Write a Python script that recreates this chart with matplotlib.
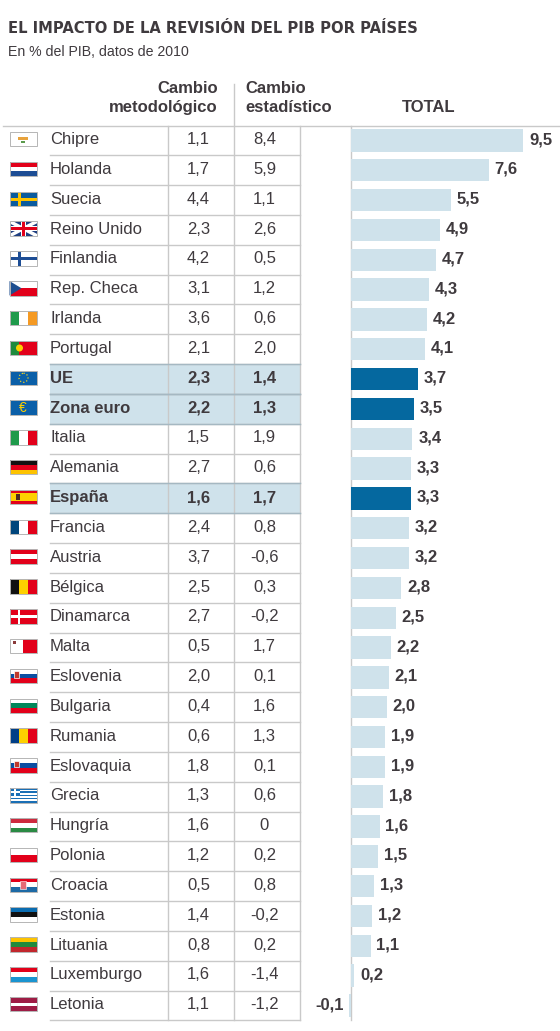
import matplotlib
matplotlib.use('agg')
import matplotlib.pyplot as plt
from matplotlib.patches import Rectangle, Circle

paises = ['Chipre', 'Holanda', 'Suecia', 'Reino Unido', 'Finlandia', 'Rep. Checa', 'Irlanda', 'Portugal',
          'UE', 'Zona euro', 'Italia', 'Alemania', 'España', 'Francia', 'Austria', 'Bélgica', 'Dinamarca',
          'Malta', 'Eslovenia', 'Bulgaria', 'Rumania', 'Eslovaquia', 'Grecia', 'Hungría', 'Polonia',
          'Croacia', 'Estonia', 'Lituania', 'Luxemburgo', 'Letonia']
metodologico = ['1,1', '1,7', '4,4', '2,3', '4,2', '3,1', '3,6', '2,1', '2,3', '2,2', '1,5', '2,7', '1,6', '2,4',
                '3,7', '2,5', '2,7', '0,5', '2,0', '0,4', '0,6', '1,8', '1,3', '1,6', '1,2', '0,5', '1,4', '0,8',
                '1,6', '1,1']
estadistico = ['8,4', '5,9', '1,1', '2,6', '0,5', '1,2', '0,6', '2,0', '1,4', '1,3', '1,9', '0,6', '1,7', '0,8',
               '-0,6', '0,3', '-0,2', '1,7', '0,1', '1,6', '1,3', '0,1', '0,6', '0', '0,2', '0,8', '-0,2', '0,2',
               '-1,4', '-1,2']
total = [9.5, 7.6, 5.5, 4.9, 4.7, 4.3, 4.2, 4.1, 3.7, 3.5, 3.4, 3.3, 3.3, 3.2, 3.2, 2.8, 2.5, 2.2, 2.1, 2.0,
         1.9, 1.9, 1.8, 1.6, 1.5, 1.3, 1.2, 1.1, 0.2, -0.1]
destacados = ['UE', 'Zona euro', 'España']

# bandas de cada bandera: (orientacion, colores)
R, W, B = '#e2001a', '#ffffff', '#00457c'
banderas = {
    'Chipre': ('h', ['#ffffff']), 'Holanda': ('h', [R, W, '#1d4d94']), 'Suecia': ('h', ['#0a5b9e']),
    'Reino Unido': ('h', ['#1f3f80']), 'Finlandia': ('h', [W]), 'Rep. Checa': ('h', [W, R]),
    'Irlanda': ('v', ['#1f9a4b', W, '#f59a23']), 'Portugal': ('v', ['#1f8a3d', R, R]),
    'UE': ('h', ['#0b5fa8']), 'Zona euro': ('h', ['#0b5fa8']), 'Italia': ('v', ['#1f9a4b', W, R]),
    'Alemania': ('h', ['#111111', R, '#fdc300']), 'España': ('h', [R, '#fdd000', '#fdd000', R]),
    'Francia': ('v', [B, W, R]), 'Austria': ('h', [R, W, R]), 'Bélgica': ('v', ['#111111', '#fdd000', R]),
    'Dinamarca': ('h', [R]), 'Malta': ('v', [W, R]), 'Eslovenia': ('h', [W, '#0b4ea2', R]),
    'Bulgaria': ('h', [W, '#00875a', R]), 'Rumania': ('v', ['#003f87', '#fdd000', R]),
    'Eslovaquia': ('h', [W, '#0b4ea2', R]), 'Grecia': ('h', ['#1a6fb5', W] * 4 + ['#1a6fb5']),
    'Hungría': ('h', ['#cd2a3e', W, '#2a8a44']), 'Polonia': ('h', [W, R]),
    'Croacia': ('h', [R, W, '#1d6aa5']), 'Estonia': ('h', ['#0a6cb0', '#111111', W]),
    'Lituania': ('h', ['#fdc300', '#1f8a3d', '#c1272d']), 'Luxemburgo': ('h', [R, W, '#1a94d0']),
    'Letonia': ('h', ['#9e1c45', '#9e1c45', W, '#9e1c45', '#9e1c45']),
}

plt.rcParams['font.family'] = ['Liberation Sans', 'DejaVu Sans']
texto = '#3f3a3e'
gris = '#c9c9c9'
azul_claro = '#cfe2eb'
azul = '#05689f'
y0 = 125.5
alto = 29.83

def fila(i):
    return y0 + alto * i

def bandera(ax, nombre, yc):
    x, w, h = 9.5, 27.5, 14.5
    top = yc - h / 2
    tipo, cols = banderas[nombre]
    n = len(cols)
    for k, c in enumerate(cols):
        if tipo == 'h':
            ax.add_patch(Rectangle((x, top + h * k / n), w, h / n, fc=c, ec='none', zorder=3))
        else:
            ax.add_patch(Rectangle((x + w * k / n, top), w / n, h, fc=c, ec='none', zorder=3))
    # detalles
    if nombre == 'Suecia':
        ax.add_patch(Rectangle((x + 8, top), 3, h, fc='#fdc300', zorder=4))
        ax.add_patch(Rectangle((x, top + 6), w, 3, fc='#fdc300', zorder=4))
    if nombre == 'Finlandia':
        ax.add_patch(Rectangle((x + 8, top), 3.5, h, fc='#1d4d94', zorder=4))
        ax.add_patch(Rectangle((x, top + 5.5), w, 3.5, fc='#1d4d94', zorder=4))
    if nombre == 'Dinamarca':
        ax.add_patch(Rectangle((x + 8, top), 2.5, h, fc=W, zorder=4))
        ax.add_patch(Rectangle((x, top + 6), w, 2.5, fc=W, zorder=4))
    if nombre == 'Reino Unido':
        ax.plot([x, x + w], [top, top + h], color=W, lw=2.5, zorder=4, solid_capstyle='butt')
        ax.plot([x, x + w], [top + h, top], color=W, lw=2.5, zorder=4, solid_capstyle='butt')
        ax.add_patch(Rectangle((x + 11, top), 5.5, h, fc=W, zorder=4))
        ax.add_patch(Rectangle((x, top + 5), w, 4.5, fc=W, zorder=4))
        ax.add_patch(Rectangle((x + 12.3, top), 3, h, fc=R, zorder=5))
        ax.add_patch(Rectangle((x, top + 5.8), w, 3, fc=R, zorder=5))
    if nombre == 'Rep. Checa':
        ax.fill([x, x + 12, x], [top, top + h / 2, top + h], color='#1f4f8f', zorder=4, lw=0)
    if nombre == 'Chipre':
        ax.add_patch(Rectangle((x + 8, top + 5), 10, 3.5, fc='#e8a33d', zorder=4))
        ax.add_patch(Rectangle((x + 11, top + 9), 4, 2.5, fc='#5a9a4b', zorder=4))
    if nombre == 'UE':
        ax.add_patch(Circle((x + 14, top + 7.3), 4.5, fc='none', ec='#f2d21f', lw=0.9, ls=':', zorder=4))
    if nombre == 'Zona euro':
        ax.text(x + 13.5, top + 7.5, '€', color='#fdd000', fontsize=10, ha='center', va='center', zorder=4)
    if nombre == 'España':
        ax.add_patch(Rectangle((x + 6, top + 4.5), 4.5, 5.5, fc='#4a2a20', zorder=4))
    if nombre == 'Portugal':
        ax.add_patch(Circle((x + 10, top + 7.3), 3.5, fc='#fdd000', ec='none', zorder=4))
    if nombre == 'Malta':
        ax.add_patch(Rectangle((x + 3.5, top + 2), 3, 3, fc='#8a3a3a', zorder=4))
    if nombre in ('Eslovenia', 'Eslovaquia'):
        ax.add_patch(Rectangle((x + 4.5, top + 2.5), 5, 6.5, fc='#c0392b', ec=W, lw=0.5, zorder=4))
    if nombre == 'Croacia':
        ax.add_patch(Rectangle((x + 10.5, top + 3), 6, 8, fc='#e56b75', ec=W, lw=0.4, zorder=4))
    if nombre == 'Grecia':
        ax.add_patch(Rectangle((x, top), 10, 8, fc='#1a6fb5', zorder=4))
        ax.add_patch(Rectangle((x + 4, top), 2, 8, fc=W, zorder=5))
        ax.add_patch(Rectangle((x, top + 3), 10, 2, fc=W, zorder=5))
    ax.add_patch(Rectangle((x, top), w, h, fc='none', ec='#b5b5b5', lw=0.7, zorder=6))


fig = plt.figure(figsize=(5.6, 10.31), dpi=100)
ax = fig.add_axes([0, 0, 1, 1])
ax.set_xlim(0, 560)
ax.set_ylim(1031, 0)
ax.axis('off')

ax.text(8, 28.5, 'EL IMPACTO DE LA REVISIÓN DEL PIB POR PAÍSES', fontsize=10.6, fontweight='bold',
        family='DejaVu Sans', color=texto, ha='left', va='center')
ax.text(8, 52.5, 'En % del PIB, datos de 2010', fontsize=10.2, color=texto, ha='left', va='center')

ax.text(218, 88.5, 'Cambio', fontsize=12, fontweight='bold', color=texto, ha='right', va='center')
ax.text(218, 107.5, 'metodológico', fontsize=12, fontweight='bold', color=texto, ha='right', va='center')
ax.text(245, 88.5, 'Cambio', fontsize=12, fontweight='bold', color=texto, ha='left', va='center')
ax.text(245, 107.5, 'estadístico', fontsize=12, fontweight='bold', color=texto, ha='left', va='center')
ax.text(429, 107.5, 'TOTAL', fontsize=12, fontweight='bold', color=texto, ha='center', va='center')

# filas destacadas
for i, p in enumerate(paises):
    if p in destacados:
        ax.add_patch(Rectangle((50, fila(i)), 249.5, alto, fc=azul_claro, ec='none', zorder=0))

# lineas de la tabla
ax.plot([3, 560], [y0, y0], color=gris, lw=1, zorder=1)
for i in range(1, 31):
    ax.plot([50, 299.5], [fila(i), fila(i)], color=gris, lw=1, zorder=1)
for i, p in enumerate(paises):
    if p in destacados:
        ax.plot([50, 299.5], [fila(i), fila(i)], color='#a5b8c2', lw=1, zorder=1.5)
        ax.plot([50, 299.5], [fila(i + 1), fila(i + 1)], color='#a5b8c2', lw=1, zorder=1.5)
ax.plot([167.5, 167.5], [y0, fila(30)], color=gris, lw=1, zorder=1)
ax.plot([233.5, 233.5], [84, fila(30)], color=gris, lw=1, zorder=1)
ax.plot([299.5, 299.5], [y0, fila(30)], color=gris, lw=1, zorder=1)
ax.plot([350.5, 350.5], [y0, fila(30)], color=gris, lw=1, zorder=1)

for i, p in enumerate(paises):
    yc = fila(i) + alto / 2 - 0.8
    peso = 'bold' if p in destacados else 'normal'
    bandera(ax, p, yc - 0.5)
    ax.text(50, yc, p, fontsize=12, fontweight=peso, color=texto, ha='left', va='center')
    ax.text(198.5, yc, metodologico[i], fontsize=12, fontweight=peso, color=texto, ha='center', va='center')
    ax.text(264.5, yc, estadistico[i], fontsize=12, fontweight=peso, color=texto, ha='center', va='center')

# barras del total
esc = 18.2
axb = fig.add_axes([300 / 560, (1031 - fila(30)) / 1031, 260 / 560, (fila(30) - y0) / 1031])
axb.set_xlim((300 - 350.5) / esc, (560 - 350.5) / esc)
axb.set_ylim(29.5, -0.5)
axb.axis('off')
axb.patch.set_alpha(0)
colores = [azul if p in destacados else azul_claro for p in paises]
axb.barh(range(len(total)), total, height=0.75, color=colores, linewidth=0)
for i, v in enumerate(total):
    et = ('%.1f' % v).replace('.', ',')
    if v < 0:
        axb.text(v - 0.28, i - 0.03, et, fontsize=12, fontweight='bold', color=texto, ha='right', va='center')
    else:
        axb.text(v + 0.32, i - 0.03, et, fontsize=12, fontweight='bold', color=texto, ha='left', va='center')

fig.savefig('out.png', dpi=100)
